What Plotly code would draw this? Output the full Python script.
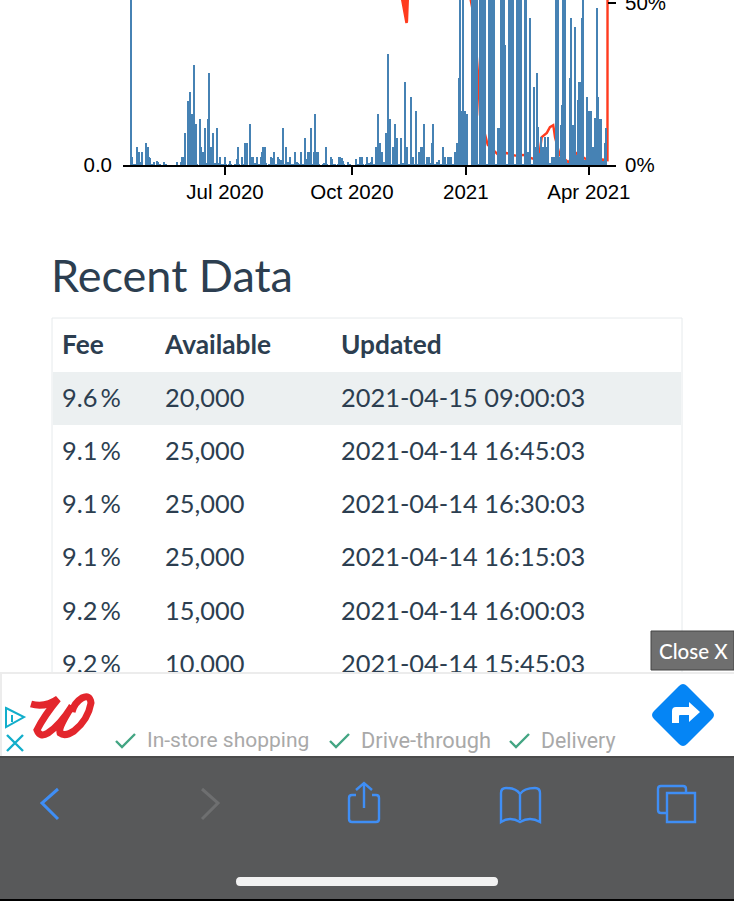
import plotly.graph_objects as go
import pandas as pd

# Daily bars (bars above 165 run off the top of the screen)
bar_start = "2020-04-21"
bar_values = [
    170, 8, 1, 1, 0, 18, 13, 3, 3, 13, 0, 0, 22, 18, 8, 7, 1, 0, 3, 0,
    4, 3, 1, 0, 0, 3, 0, 1, 0, 0, 0, 0, 0, 0, 0, 3, 0, 0, 3, 8,
    8, 32, 0, 64, 64, 73, 51, 51, 100, 41, 1, 0, 46, 18, 13, 13, 37, 2, 46, 92,
    18, 18, 32, 2, 2, 37, 2, 8, 1, 0, 1, 8, 1, 0, 1, 4, 1, 0, 0, 1,
    6, 18, 1, 0, 8, 1, 22, 22, 22, 0, 41, 8, 8, 2, 2, 8, 1, 1, 8, 13,
    18, 18, 2, 0, 1, 1, 8, 7, 13, 1, 1, 8, 6, 5, 1, 37, 1, 18, 3, 3,
    8, 1, 1, 0, 13, 3, 2, 1, 13, 1, 1, 27, 1, 6, 13, 13, 37, 1, 13, 51,
    13, 13, 1, 0, 0, 1, 2, 18, 1, 0, 0, 8, 6, 1, 1, 0, 1, 8, 8, 7,
    4, 1, 0, 0, 3, 1, 0, 0, 0, 0, 6, 1, 1, 8, 8, 1, 0, 1, 8, 2,
    2, 3, 8, 1, 0, 18, 51, 22, 22, 13, 0, 3, 32, 32, 111, 46, 1, 1, 18, 41,
    27, 27, 1, 1, 27, 2, 1, 83, 18, 1, 1, 68, 1, 8, 1, 54, 1, 13, 8, 18,
    18, 41, 1, 8, 4, 8, 2, 22, 41, 1, 1, 3, 5, 1, 1, 18, 1, 8, 1, 8,
    8, 8, 1, 1, 13, 13, 22, 87, 170, 54, 170, 54, 54, 51, 0, 0, 0, 170, 170, 170,
    170, 170, 1, 170, 170, 170, 170, 170, 1, 1, 170, 170, 170, 170, 170, 1, 1, 37, 37, 170,
    170, 170, 120, 1, 1, 170, 170, 170, 170, 1, 1, 170, 170, 170, 170, 1, 1, 170, 170, 13,
    13, 147, 1, 1, 78, 18, 92, 38, 12, 28, 18, 18, 28, 18, 28, 2, 2, 8, 8, 8,
    170, 170, 170, 8, 40, 60, 170, 170, 5, 2, 2, 87, 147, 40, 40, 138, 10, 65, 83, 83,
    147, 170, 5, 5, 68, 54, 54, 54, 18, 4, 47, 157, 68, 46, 46, 4, 4, 22, 37,
]

# Fee line, percent. Most of it is above the top of the screen
fee_dates = [
    "2020-04-21", "2020-11-10 12:00", "2020-11-14 16:00", "2020-11-12 10:00",
    "2020-11-14 20:00", "2020-11-13 12:00", "2020-11-15 00:00", "2020-11-15 20:00",
    "2021-01-01 12:00", "2021-01-04 12:00", "2021-01-07 12:00", "2021-01-09",
    "2021-01-14 20:00", "2021-01-22 20:00", "2021-01-29", "2021-02-04 10:00",
    "2021-02-10 14:00", "2021-02-17 10:00", "2021-02-21", "2021-02-23 04:00",
    "2021-02-24 12:00", "2021-02-28 08:00", "2021-03-02 16:00", "2021-03-05 04:00",
    "2021-03-06 12:00", "2021-03-10", "2021-03-16 12:00", "2021-03-23",
    "2021-03-29", "2021-04-04 14:00", "2021-04-11", "2021-04-15 00:00", "2021-04-15 01:00",
]
fee_values = [
    80, 53, 43.8, 53, 43.8, 53, 44.2, 53,
    52, 45.7, 28.4, 15.4, 6.2, 3.1, 3.7, 2.9,
    3.1, 2.0, 2.0, 4.6, 8.6, 9.9, 11.7, 12.3,
    8.6, 3.1, 0.9, 3.7, 2.0, 1.5, 1.7, 1.5, 60,
]

tick_dates = ["2020-07-01", "2020-10-04 14:00", "2020-12-29 08:00", "2021-04-01"]
tick_labels = ["Jul 2020", "Oct 2020", "2021", "Apr 2021"]

# Recent data table
table_head = ["Fee", "Available", "Updated"]
table_fee = ["9.6\u2009%", "9.1\u2009%", "9.1\u2009%", "9.1\u2009%", "9.2\u2009%", "9.2\u2009%"]
table_available = ["20,000", "25,000", "25,000", "25,000", "15,000", "10,000"]
table_updated = [
    "2021-04-15 09:00:03", "2021-04-14 16:45:03", "2021-04-14 16:30:03",
    "2021-04-14 16:15:03", "2021-04-14 16:00:03", "2021-04-14 15:45:03",
]

W, H = 734, 901
PAGE_BLUE = "#3f8ef5"
INK = "#2c3e50"

bar_dates = pd.date_range(bar_start, periods=len(bar_values), freq="D")

fig = go.Figure()

# line goes first so the bars end up on top of it
fig.add_trace(go.Scatter(x=fee_dates, y=fee_values, mode="lines", xaxis="x", yaxis="y",
                         line=dict(color="#ff3b1e", width=2.4), hoverinfo="skip"))
fig.add_trace(go.Bar(x=bar_dates, y=bar_values, xaxis="x", yaxis="y2",
                     marker=dict(color="#4682b4", line_width=0), hoverinfo="skip"))

# table cells, clipped by their subplot where the ad covers the last row
col_x = [62, 165, 341]
row_y = [347, 400.5, 453.5, 506.5, 559.5, 613.5, 666.5]
fig.add_trace(go.Scatter(x=col_x, y=[row_y[0]] * 3, text=table_head, mode="text",
                         xaxis="x4", yaxis="y4", textposition="middle right",
                         textfont=dict(family="Lato", size=26.3, color=INK, weight=700),
                         hoverinfo="skip"))
for cx, col in zip(col_x, [table_fee, table_available, table_updated]):
    fig.add_trace(go.Scatter(x=[cx] * len(col), y=row_y[1:], text=col, mode="text",
                             xaxis="x4", yaxis="y4", textposition="middle right",
                             textfont=dict(family="Lato", size=25.4, color=INK),
                             hoverinfo="skip"))


def stroke(path, color, width=3):
    return dict(type="path", path=path, xref="x3", yref="y3", layer="above",
                line=dict(color=color, width=width))


def solid(path, color):
    return dict(type="path", path=path, xref="x3", yref="y3", layer="above",
                fillcolor=color, line_width=0)


def box(x0, y0, x1, y1, fill, line=None, layer="above"):
    return dict(type="rect", x0=x0, y0=y0, x1=x1, y1=y1, xref="x3", yref="y3", layer=layer,
                fillcolor=fill, line=dict(color=line or fill, width=1 if line else 0))


shapes = [
    # table frame and highlighted row
    box(52, 318, 682, 700, "rgba(0,0,0,0)", "#e6eaec", layer="below"),
    box(53, 372, 681, 425, "#ecf0f1", layer="below"),
    # ad
    box(0, 673, 734, 757, "#ffffff"),
    box(0, 672, 734, 674, "#ececec"),
    box(0, 673, 2, 757, "#ececec"),
    stroke("M 31,704 Q 45,708 58,699 Q 44,716 37,730 Q 40,738 48,733 Q 60,725 72,706 "
           "Q 58,728 60,733 Q 65,737 74,731 Q 88,720 91,703 Q 90,694 82,698 Q 74,703 72,712",
           "#e3262c", 7),
    stroke("M 6,708 L 24,717 L 6,727 Z", "#12aecb", 2),
    stroke("M 12,715 L 12,722", "#12aecb", 2),
    stroke("M 7,735 L 23,751 M 23,735 L 7,751", "#12aecb", 2.4),
    stroke("M 116,741 L 122,747 L 135,734", "#43a583", 2.4),
    stroke("M 330,741 L 336,747 L 349,734", "#43a583", 2.4),
    stroke("M 510,741 L 516,747 L 529,734", "#43a583", 2.4),
    solid("M 679,686 Q 683,682 687,686 L 712,711 Q 716,715 712,719 L 687,744 "
          "Q 683,748 679,744 L 654,719 Q 650,715 654,711 Z", "#0585f5"),
    solid("M 700,712 L 689,702 L 689,707 L 676,707 Q 672,707 672,711 L 672,723 L 679,723 "
          "L 679,716 Q 679,715 680,715 L 689,715 L 689,722 Z", "#ffffff"),
    box(651, 631, 734, 670, "#6f6f6f", "#454545"),
    # browser toolbar
    box(0, 757, 734, 901, "#58595a"),
    box(0, 756, 734, 758, "#4b4b4b"),
    box(0, 899, 734, 901, "#000000"),
    stroke("M 58,789 L 42,803 L 58,819", PAGE_BLUE, 3),
    stroke("M 202,789 L 218,803 L 202,819", "#6e6f70", 3),
    stroke("M 356,795 L 352,795 Q 349,795 349,798 L 349,819 Q 349,822 352,822 L 376,822 "
           "Q 379,822 379,819 L 379,798 Q 379,795 376,795 L 372,795", PAGE_BLUE, 2.4),
    stroke("M 364,808 L 364,783 M 356,790 L 364,783 L 372,790", PAGE_BLUE, 2.4),
    stroke("M 520,794 Q 516,788 506,788 Q 501,788 501,793 L 501,822 Q 510,816 520,822 "
           "Q 530,816 540,822 L 540,793 Q 540,788 535,788 Q 524,788 520,794 L 520,820", PAGE_BLUE, 2.4),
    stroke("M 666,813 L 661,813 Q 658,813 658,810 L 658,789 Q 658,786 661,786 L 683,786 "
           "Q 686,786 686,789 L 686,793", PAGE_BLUE, 2.4),
    dict(type="rect", x0=667, y0=793, x1=695, y1=822, xref="x3", yref="y3", layer="above",
         line=dict(color=PAGE_BLUE, width=2.4)),
    solid("M 240,877 L 494,877 Q 498,877 498,881.5 Q 498,886 494,886 L 240,886 "
          "Q 236,886 236,881.5 Q 236,877 240,877 Z", "#f2f2f2"),
]


def note(x, y, text, size, color, family="Lato", anchor="left", **font_extra):
    return dict(x=x, y=y, xref="x3", yref="y3", text=text, showarrow=False, xanchor=anchor,
                yanchor="middle", borderpad=0,
                font=dict(family=family, size=size, color=color, **font_extra))


annotations = [
    note(50, 275, "Recent Data", 45, INK),
    note(657.5, 650.5, "Close X", 20.5, "#ffffff", weight=500),
    note(145.5, 740, "In-store shopping", 21, "#a9a9a9", family="Roboto"),
    note(359.5, 740, "Drive-through", 21.8, "#a9a9a9", family="Roboto"),
    note(539.5, 740, "Delivery", 21.3, "#a9a9a9", family="Roboto"),
]

# pixel positions of the chart box on the page
plot_left, plot_right, plot_base = 123, 616, 165
axis_font = dict(family="Liberation Sans", size=20.5, color="#000000")
page_axis = dict(visible=False, fixedrange=True)

fig.update_layout(
    width=W, height=H, autosize=False,
    margin=dict(l=0, r=0, t=0, b=0, pad=0, autoexpand=False),
    paper_bgcolor="#ffffff", plot_bgcolor="rgba(0,0,0,0)",
    showlegend=False, bargap=0,
    xaxis=dict(domain=[plot_left / W, plot_right / W], anchor="y", type="date",
               range=["2020-04-15 05:00", "2021-04-21 10:00"],
               tickvals=tick_dates, ticktext=tick_labels, tickangle=0,
               ticks="outside", ticklen=8, tickwidth=1.5, tickcolor="#000000",
               ticklabelstandoff=0, tickfont=axis_font,
               showline=True, linecolor="#000000", linewidth=1.5,
               showgrid=False, zeroline=False),
    yaxis=dict(domain=[1 - plot_base / H, 1], anchor="x", side="right",
               range=[0, plot_base / 3.24], tickvals=[0, 50], ticktext=["0%", "50%"],
               ticks="inside", ticklen=8, tickwidth=1.5, tickcolor="#000000",
               ticklabelstandoff=8, tickfont=axis_font, ticklabeloverflow="allow",
               showline=False, showgrid=False, zeroline=False),
    yaxis2=dict(domain=[1 - plot_base / H, 1], anchor="x", side="left", overlaying="y",
                range=[0, plot_base], tickvals=[0], ticktext=["0.0"],
                ticks="", ticklabelstandoff=10, tickfont=axis_font, ticklabeloverflow="allow",
                showline=False, showgrid=False, zeroline=False),
    # whole page in pixels, for the page furniture around the chart
    xaxis3=dict(domain=[0, 1], range=[0, W], anchor="y3", **page_axis),
    yaxis3=dict(domain=[0, 1], range=[H, 0], anchor="x3", **page_axis),
    # table text stops at the top of the ad
    xaxis4=dict(domain=[0, 1], range=[0, W], anchor="y4", **page_axis),
    yaxis4=dict(domain=[1 - 672 / H, 1], range=[672, 0], anchor="x4", **page_axis),
    shapes=shapes,
    annotations=annotations,
)

fig.write_html("out.html", config=dict(displayModeBar=False),
               post_script="document.body.style.margin='0';document.body.style.overflow='hidden';")
